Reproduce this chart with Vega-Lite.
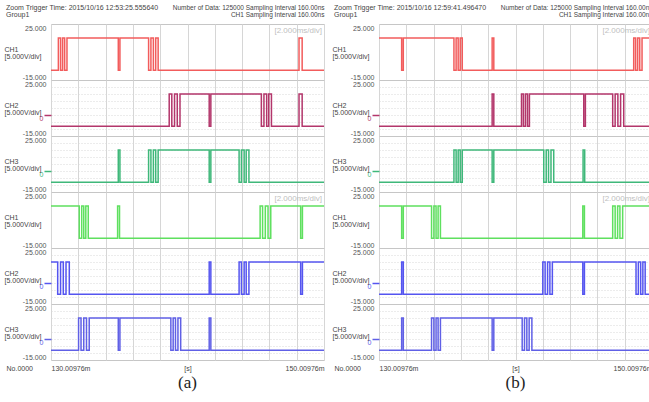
{
"$schema":"https://vega.github.io/schema/vega-lite/v6.json",
"background":"white",
"padding":{"left":3,"top":3,"right":0,"bottom":0},
"config":{"font":"Liberation Sans","view":{"stroke":"#c6c6c6","strokeWidth":1},
 "axisX":{"grid":true,"gridColor":"#d6d6d6","ticks":false,"domain":false,"labels":false,"tickCount":10}},
"datasets":{"w":[
{"p":"a1","t":0,"v":-8},{"p":"a1","t":0.54,"v":15},{"p":"a1","t":0.7,"v":-8},{"p":"a1","t":0.85,"v":15},{"p":"a1","t":1.0,"v":-8},{"p":"a1","t":1.17,"v":15},{"p":"a1","t":4.93,"v":-8},{"p":"a1","t":5.05,"v":15},{"p":"a1","t":7.15,"v":-8},{"p":"a1","t":7.32,"v":15},{"p":"a1","t":7.5,"v":-8},{"p":"a1","t":7.67,"v":15},{"p":"a1","t":7.85,"v":-8},{"p":"a1","t":18.17,"v":15},{"p":"a1","t":18.4,"v":-8},{"p":"a1","t":20,"v":-8},
{"p":"a2","t":0,"v":-8},{"p":"a2","t":8.66,"v":15},{"p":"a2","t":8.85,"v":-8},{"p":"a2","t":9.05,"v":15},{"p":"a2","t":9.25,"v":-8},{"p":"a2","t":9.45,"v":15},{"p":"a2","t":11.59,"v":-8},{"p":"a2","t":11.71,"v":15},{"p":"a2","t":15.41,"v":-8},{"p":"a2","t":15.6,"v":15},{"p":"a2","t":15.8,"v":-8},{"p":"a2","t":15.95,"v":15},{"p":"a2","t":16.15,"v":-8},{"p":"a2","t":18.17,"v":15},{"p":"a2","t":18.4,"v":-8},{"p":"a2","t":20,"v":-8},
{"p":"a3","t":0,"v":-8},{"p":"a3","t":4.93,"v":15},{"p":"a3","t":5.05,"v":-8},{"p":"a3","t":7.15,"v":15},{"p":"a3","t":7.32,"v":-8},{"p":"a3","t":7.5,"v":15},{"p":"a3","t":7.67,"v":-8},{"p":"a3","t":7.85,"v":15},{"p":"a3","t":11.59,"v":-8},{"p":"a3","t":11.71,"v":15},{"p":"a3","t":13.78,"v":-8},{"p":"a3","t":13.95,"v":15},{"p":"a3","t":14.15,"v":-8},{"p":"a3","t":14.3,"v":15},{"p":"a3","t":14.5,"v":-8},{"p":"a3","t":20,"v":-8},
{"p":"a4","t":0,"v":15},{"p":"a4","t":2.07,"v":-8},{"p":"a4","t":2.25,"v":15},{"p":"a4","t":2.4,"v":-8},{"p":"a4","t":2.55,"v":15},{"p":"a4","t":2.73,"v":-8},{"p":"a4","t":4.88,"v":15},{"p":"a4","t":5.02,"v":-8},{"p":"a4","t":15.32,"v":15},{"p":"a4","t":15.5,"v":-8},{"p":"a4","t":15.7,"v":15},{"p":"a4","t":15.9,"v":-8},{"p":"a4","t":16.1,"v":15},{"p":"a4","t":18.29,"v":-8},{"p":"a4","t":18.42,"v":15},{"p":"a4","t":20,"v":15},
{"p":"a5","t":0,"v":15},{"p":"a5","t":0.49,"v":-8},{"p":"a5","t":0.7,"v":15},{"p":"a5","t":0.9,"v":-8},{"p":"a5","t":1.1,"v":15},{"p":"a5","t":1.34,"v":-8},{"p":"a5","t":11.59,"v":15},{"p":"a5","t":11.71,"v":-8},{"p":"a5","t":13.78,"v":15},{"p":"a5","t":13.95,"v":-8},{"p":"a5","t":14.15,"v":15},{"p":"a5","t":14.3,"v":-8},{"p":"a5","t":14.5,"v":15},{"p":"a5","t":18.29,"v":-8},{"p":"a5","t":18.42,"v":15},{"p":"a5","t":20,"v":15},
{"p":"a6","t":0,"v":-8},{"p":"a6","t":2.02,"v":15},{"p":"a6","t":2.2,"v":-8},{"p":"a6","t":2.4,"v":15},{"p":"a6","t":2.6,"v":-8},{"p":"a6","t":2.8,"v":15},{"p":"a6","t":4.93,"v":-8},{"p":"a6","t":5.05,"v":15},{"p":"a6","t":8.78,"v":-8},{"p":"a6","t":8.95,"v":15},{"p":"a6","t":9.12,"v":-8},{"p":"a6","t":9.3,"v":15},{"p":"a6","t":9.5,"v":-8},{"p":"a6","t":11.59,"v":15},{"p":"a6","t":11.71,"v":-8},{"p":"a6","t":20,"v":-8},
{"p":"b1","t":0,"v":15},{"p":"b1","t":1.66,"v":-8},{"p":"b1","t":1.78,"v":15},{"p":"b1","t":5.49,"v":-8},{"p":"b1","t":5.65,"v":15},{"p":"b1","t":5.8,"v":-8},{"p":"b1","t":5.95,"v":15},{"p":"b1","t":6.1,"v":-8},{"p":"b1","t":8.29,"v":15},{"p":"b1","t":8.41,"v":-8},{"p":"b1","t":18.66,"v":15},{"p":"b1","t":18.8,"v":-8},{"p":"b1","t":18.95,"v":15},{"p":"b1","t":19.1,"v":-8},{"p":"b1","t":19.27,"v":15},{"p":"b1","t":20,"v":15},
{"p":"b2","t":0,"v":-8},{"p":"b2","t":8.29,"v":15},{"p":"b2","t":8.41,"v":-8},{"p":"b2","t":10.44,"v":15},{"p":"b2","t":10.58,"v":-8},{"p":"b2","t":10.73,"v":15},{"p":"b2","t":10.88,"v":-8},{"p":"b2","t":11.02,"v":15},{"p":"b2","t":15.0,"v":-8},{"p":"b2","t":15.12,"v":15},{"p":"b2","t":17.12,"v":-8},{"p":"b2","t":17.3,"v":15},{"p":"b2","t":17.5,"v":-8},{"p":"b2","t":17.7,"v":15},{"p":"b2","t":17.93,"v":-8},{"p":"b2","t":20,"v":-8},
{"p":"b3","t":0,"v":-8},{"p":"b3","t":5.49,"v":15},{"p":"b3","t":5.65,"v":-8},{"p":"b3","t":5.8,"v":15},{"p":"b3","t":5.95,"v":-8},{"p":"b3","t":6.1,"v":15},{"p":"b3","t":8.29,"v":-8},{"p":"b3","t":8.41,"v":15},{"p":"b3","t":12.07,"v":-8},{"p":"b3","t":12.25,"v":15},{"p":"b3","t":12.42,"v":-8},{"p":"b3","t":12.6,"v":15},{"p":"b3","t":12.8,"v":-8},{"p":"b3","t":14.95,"v":15},{"p":"b3","t":15.07,"v":-8},{"p":"b3","t":20,"v":-8},
{"p":"b4","t":0,"v":15},{"p":"b4","t":1.66,"v":-8},{"p":"b4","t":1.78,"v":15},{"p":"b4","t":3.85,"v":-8},{"p":"b4","t":4.02,"v":15},{"p":"b4","t":4.18,"v":-8},{"p":"b4","t":4.33,"v":15},{"p":"b4","t":4.5,"v":-8},{"p":"b4","t":14.93,"v":15},{"p":"b4","t":15.05,"v":-8},{"p":"b4","t":17.12,"v":15},{"p":"b4","t":17.3,"v":-8},{"p":"b4","t":17.48,"v":15},{"p":"b4","t":17.65,"v":-8},{"p":"b4","t":17.85,"v":15},{"p":"b4","t":20,"v":15},
{"p":"b5","t":0,"v":-8},{"p":"b5","t":1.66,"v":15},{"p":"b5","t":1.78,"v":-8},{"p":"b5","t":12.0,"v":15},{"p":"b5","t":12.17,"v":-8},{"p":"b5","t":12.35,"v":15},{"p":"b5","t":12.52,"v":-8},{"p":"b5","t":12.7,"v":15},{"p":"b5","t":14.93,"v":-8},{"p":"b5","t":15.05,"v":15},{"p":"b5","t":18.83,"v":-8},{"p":"b5","t":19.0,"v":15},{"p":"b5","t":19.17,"v":-8},{"p":"b5","t":19.33,"v":15},{"p":"b5","t":19.5,"v":-8},{"p":"b5","t":20,"v":-8},
{"p":"b6","t":0,"v":-8},{"p":"b6","t":1.66,"v":15},{"p":"b6","t":1.78,"v":-8},{"p":"b6","t":3.85,"v":15},{"p":"b6","t":4.02,"v":-8},{"p":"b6","t":4.18,"v":15},{"p":"b6","t":4.33,"v":-8},{"p":"b6","t":4.5,"v":15},{"p":"b6","t":8.29,"v":-8},{"p":"b6","t":8.41,"v":15},{"p":"b6","t":10.49,"v":-8},{"p":"b6","t":10.66,"v":15},{"p":"b6","t":10.83,"v":-8},{"p":"b6","t":11.0,"v":15},{"p":"b6","t":11.2,"v":-8},{"p":"b6","t":20,"v":-8}
]},
"columns":2,
"spacing":{"row":0,"column":55},
"bounds":"flush",
"concat":[
 {"width":273,"height":56,
  "title":{"text":["Zoom Trigger Time: 2015/10/16 12:53:25.555640","Group1"],"anchor":"start","frame":"group","fontSize":7,"fontWeight":"normal","color":"#444","dx":-45,"dy":16,"lineHeight":7,"offset":2},
  "layer":[
  {"data":{"name":"w"},"transform":[{"filter":"datum.p=='a1'"}],
   "mark":{"type":"line","interpolate":"step-after","color":"#f25c5c","strokeWidth":1.5,"clip":true},
   "encoding":{
    "x":{"field":"t","type":"quantitative","scale":{"domain":[0,20],"nice":false,"zero":false},"axis":{"orient":"top","title":["Number of Data: 125000 Sampling Interval  160.00ns","CH1 Sampling Interval  160.00ns"],"titleAnchor":"end","titleAlign":"right","titleX":273,"titleY":-20,"titleBaseline":"top","titleFontSize":6.5,"titleFontWeight":"normal","titleColor":"#444","titleLineHeight":7}},
    "y":{"field":"v","type":"quantitative","scale":{"domain":[-15,25],"nice":false,"zero":false},"axis":{"values":[-15,-10,-5,0,5,10,15,20,25],"labelExpr":"datum.value==0?'0':datum.value==25?'25.000':datum.value==-15?'-15.000':''","labelFlush":true,"labelFontSize":7,"labelColor":{"condition":{"test":"datum.value==0","value":"#f25c5c"},"value":"#555"},"labelOffset":{"condition":{"test":"datum.value==0","value":3},"value":0},"labelPadding":{"condition":{"test":"datum.value==0","value":1},"value":-2},"tickSize":7,"tickWidth":1.5,"tickColor":{"condition":{"test":"datum.value==0","value":"#f25c5c"},"value":"transparent"},"domain":false,"grid":true,"gridDash":[1,2],"gridColor":{"condition":{"test":"datum.value==25||datum.value==-15","value":"transparent"},"value":"#d8d8d8"},"title":["CH1","[5.000V/div]"],"titleAngle":0,"titleAlign":"left","titleBaseline":"top","titleX":-47,"titleY":21,"titleFontSize":7,"titleFontWeight":"normal","titleColor":"#444","titleLineHeight":7}}}},
  {"data":{"values":[{"s":"[2.000ms/div]"}]},"mark":{"type":"text","align":"right","baseline":"top","dx":-2,"dy":3,"fontSize":8,"color":"#c0c0c0"},"encoding":{"x":{"datum":20},"y":{"datum":25},"text":{"field":"s"}}}
 ]},
 {"width":273,"height":56,
  "title":{"text":["Zoom Trigger Time: 2015/10/16 12:59:41.496470","Group1"],"anchor":"start","frame":"group","fontSize":7,"fontWeight":"normal","color":"#444","dx":-45,"dy":16,"lineHeight":7,"offset":2},
  "layer":[
  {"data":{"name":"w"},"transform":[{"filter":"datum.p=='b1'"}],
   "mark":{"type":"line","interpolate":"step-after","color":"#f25c5c","strokeWidth":1.5,"clip":true},
   "encoding":{
    "x":{"field":"t","type":"quantitative","scale":{"domain":[0,20],"nice":false,"zero":false},"axis":{"orient":"top","title":["Number of Data: 125000 Sampling Interval  160.00ns","CH1 Sampling Interval  160.00ns"],"titleAnchor":"end","titleAlign":"right","titleX":273,"titleY":-20,"titleBaseline":"top","titleFontSize":6.5,"titleFontWeight":"normal","titleColor":"#444","titleLineHeight":7}},
    "y":{"field":"v","type":"quantitative","scale":{"domain":[-15,25],"nice":false,"zero":false},"axis":{"values":[-15,-10,-5,0,5,10,15,20,25],"labelExpr":"datum.value==0?'0':datum.value==25?'25.000':datum.value==-15?'-15.000':''","labelFlush":true,"labelFontSize":7,"labelColor":{"condition":{"test":"datum.value==0","value":"#f25c5c"},"value":"#555"},"labelOffset":{"condition":{"test":"datum.value==0","value":3},"value":0},"labelPadding":{"condition":{"test":"datum.value==0","value":1},"value":-2},"tickSize":7,"tickWidth":1.5,"tickColor":{"condition":{"test":"datum.value==0","value":"#f25c5c"},"value":"transparent"},"domain":false,"grid":true,"gridDash":[1,2],"gridColor":{"condition":{"test":"datum.value==25||datum.value==-15","value":"transparent"},"value":"#d8d8d8"},"title":["CH1","[5.000V/div]"],"titleAngle":0,"titleAlign":"left","titleBaseline":"top","titleX":-47,"titleY":21,"titleFontSize":7,"titleFontWeight":"normal","titleColor":"#444","titleLineHeight":7}}}},
  {"data":{"values":[{"s":"[2.000ms/div]"}]},"mark":{"type":"text","align":"right","baseline":"top","dx":-2,"dy":3,"fontSize":8,"color":"#c0c0c0"},"encoding":{"x":{"datum":20},"y":{"datum":25},"text":{"field":"s"}}}
 ]},
 {"width":273,"height":56,"data":{"name":"w"},"transform":[{"filter":"datum.p=='a2'"}],
   "mark":{"type":"line","interpolate":"step-after","color":"#b3366b","strokeWidth":1.5,"clip":true},
   "encoding":{
    "x":{"field":"t","type":"quantitative","scale":{"domain":[0,20],"nice":false,"zero":false},"axis":{"title":null}},
    "y":{"field":"v","type":"quantitative","scale":{"domain":[-15,25],"nice":false,"zero":false},"axis":{"values":[-15,-10,-5,0,5,10,15,20,25],"labelExpr":"datum.value==0?'0':datum.value==25?'25.000':datum.value==-15?'-15.000':''","labelFlush":true,"labelFontSize":7,"labelColor":{"condition":{"test":"datum.value==0","value":"#b3366b"},"value":"#555"},"labelOffset":{"condition":{"test":"datum.value==0","value":3},"value":0},"labelPadding":{"condition":{"test":"datum.value==0","value":1},"value":-2},"tickSize":7,"tickWidth":1.5,"tickColor":{"condition":{"test":"datum.value==0","value":"#b3366b"},"value":"transparent"},"domain":false,"grid":true,"gridDash":[1,2],"gridColor":{"condition":{"test":"datum.value==25||datum.value==-15","value":"transparent"},"value":"#d8d8d8"},"title":["CH2","[5.000V/div]"],"titleAngle":0,"titleAlign":"left","titleBaseline":"top","titleX":-47,"titleY":21,"titleFontSize":7,"titleFontWeight":"normal","titleColor":"#444","titleLineHeight":7}}}},
 {"width":273,"height":56,"data":{"name":"w"},"transform":[{"filter":"datum.p=='b2'"}],
   "mark":{"type":"line","interpolate":"step-after","color":"#b3366b","strokeWidth":1.5,"clip":true},
   "encoding":{
    "x":{"field":"t","type":"quantitative","scale":{"domain":[0,20],"nice":false,"zero":false},"axis":{"title":null}},
    "y":{"field":"v","type":"quantitative","scale":{"domain":[-15,25],"nice":false,"zero":false},"axis":{"values":[-15,-10,-5,0,5,10,15,20,25],"labelExpr":"datum.value==0?'0':datum.value==25?'25.000':datum.value==-15?'-15.000':''","labelFlush":true,"labelFontSize":7,"labelColor":{"condition":{"test":"datum.value==0","value":"#b3366b"},"value":"#555"},"labelOffset":{"condition":{"test":"datum.value==0","value":3},"value":0},"labelPadding":{"condition":{"test":"datum.value==0","value":1},"value":-2},"tickSize":7,"tickWidth":1.5,"tickColor":{"condition":{"test":"datum.value==0","value":"#b3366b"},"value":"transparent"},"domain":false,"grid":true,"gridDash":[1,2],"gridColor":{"condition":{"test":"datum.value==25||datum.value==-15","value":"transparent"},"value":"#d8d8d8"},"title":["CH2","[5.000V/div]"],"titleAngle":0,"titleAlign":"left","titleBaseline":"top","titleX":-47,"titleY":21,"titleFontSize":7,"titleFontWeight":"normal","titleColor":"#444","titleLineHeight":7}}}},
 {"width":273,"height":56,"data":{"name":"w"},"transform":[{"filter":"datum.p=='a3'"}],
   "mark":{"type":"line","interpolate":"step-after","color":"#3fb87a","strokeWidth":1.5,"clip":true},
   "encoding":{
    "x":{"field":"t","type":"quantitative","scale":{"domain":[0,20],"nice":false,"zero":false},"axis":{"title":null}},
    "y":{"field":"v","type":"quantitative","scale":{"domain":[-15,25],"nice":false,"zero":false},"axis":{"values":[-15,-10,-5,0,5,10,15,20,25],"labelExpr":"datum.value==0?'0':datum.value==25?'25.000':datum.value==-15?'-15.000':''","labelFlush":true,"labelFontSize":7,"labelColor":{"condition":{"test":"datum.value==0","value":"#3fb87a"},"value":"#555"},"labelOffset":{"condition":{"test":"datum.value==0","value":3},"value":0},"labelPadding":{"condition":{"test":"datum.value==0","value":1},"value":-2},"tickSize":7,"tickWidth":1.5,"tickColor":{"condition":{"test":"datum.value==0","value":"#3fb87a"},"value":"transparent"},"domain":false,"grid":true,"gridDash":[1,2],"gridColor":{"condition":{"test":"datum.value==25||datum.value==-15","value":"transparent"},"value":"#d8d8d8"},"title":["CH3","[5.000V/div]"],"titleAngle":0,"titleAlign":"left","titleBaseline":"top","titleX":-47,"titleY":21,"titleFontSize":7,"titleFontWeight":"normal","titleColor":"#444","titleLineHeight":7}}}},
 {"width":273,"height":56,"data":{"name":"w"},"transform":[{"filter":"datum.p=='b3'"}],
   "mark":{"type":"line","interpolate":"step-after","color":"#3fb87a","strokeWidth":1.5,"clip":true},
   "encoding":{
    "x":{"field":"t","type":"quantitative","scale":{"domain":[0,20],"nice":false,"zero":false},"axis":{"title":null}},
    "y":{"field":"v","type":"quantitative","scale":{"domain":[-15,25],"nice":false,"zero":false},"axis":{"values":[-15,-10,-5,0,5,10,15,20,25],"labelExpr":"datum.value==0?'0':datum.value==25?'25.000':datum.value==-15?'-15.000':''","labelFlush":true,"labelFontSize":7,"labelColor":{"condition":{"test":"datum.value==0","value":"#3fb87a"},"value":"#555"},"labelOffset":{"condition":{"test":"datum.value==0","value":3},"value":0},"labelPadding":{"condition":{"test":"datum.value==0","value":1},"value":-2},"tickSize":7,"tickWidth":1.5,"tickColor":{"condition":{"test":"datum.value==0","value":"#3fb87a"},"value":"transparent"},"domain":false,"grid":true,"gridDash":[1,2],"gridColor":{"condition":{"test":"datum.value==25||datum.value==-15","value":"transparent"},"value":"#d8d8d8"},"title":["CH3","[5.000V/div]"],"titleAngle":0,"titleAlign":"left","titleBaseline":"top","titleX":-47,"titleY":21,"titleFontSize":7,"titleFontWeight":"normal","titleColor":"#444","titleLineHeight":7}}}},
 {"width":273,"height":56,
  "layer":[
  {"data":{"name":"w"},"transform":[{"filter":"datum.p=='a4'"}],
   "mark":{"type":"line","interpolate":"step-after","color":"#5fe05f","strokeWidth":1.5,"clip":true},
   "encoding":{
    "x":{"field":"t","type":"quantitative","scale":{"domain":[0,20],"nice":false,"zero":false},"axis":{"title":null}},
    "y":{"field":"v","type":"quantitative","scale":{"domain":[-15,25],"nice":false,"zero":false},"axis":{"values":[-15,-10,-5,0,5,10,15,20,25],"labelExpr":"datum.value==0?'0':datum.value==25?'25.000':datum.value==-15?'-15.000':''","labelFlush":true,"labelFontSize":7,"labelColor":{"condition":{"test":"datum.value==0","value":"#5fe05f"},"value":"#555"},"labelOffset":{"condition":{"test":"datum.value==0","value":3},"value":0},"labelPadding":{"condition":{"test":"datum.value==0","value":1},"value":-2},"tickSize":7,"tickWidth":1.5,"tickColor":{"condition":{"test":"datum.value==0","value":"#5fe05f"},"value":"transparent"},"domain":false,"grid":true,"gridDash":[1,2],"gridColor":{"condition":{"test":"datum.value==25||datum.value==-15","value":"transparent"},"value":"#d8d8d8"},"title":["CH1","[5.000V/div]"],"titleAngle":0,"titleAlign":"left","titleBaseline":"top","titleX":-47,"titleY":21,"titleFontSize":7,"titleFontWeight":"normal","titleColor":"#444","titleLineHeight":7}}}},
  {"data":{"values":[{"s":"[2.000ms/div]"}]},"mark":{"type":"text","align":"right","baseline":"top","dx":-2,"dy":3,"fontSize":8,"color":"#c0c0c0"},"encoding":{"x":{"datum":20},"y":{"datum":25},"text":{"field":"s"}}}
 ]},
 {"width":273,"height":56,
  "layer":[
  {"data":{"name":"w"},"transform":[{"filter":"datum.p=='b4'"}],
   "mark":{"type":"line","interpolate":"step-after","color":"#5fe05f","strokeWidth":1.5,"clip":true},
   "encoding":{
    "x":{"field":"t","type":"quantitative","scale":{"domain":[0,20],"nice":false,"zero":false},"axis":{"title":null}},
    "y":{"field":"v","type":"quantitative","scale":{"domain":[-15,25],"nice":false,"zero":false},"axis":{"values":[-15,-10,-5,0,5,10,15,20,25],"labelExpr":"datum.value==0?'0':datum.value==25?'25.000':datum.value==-15?'-15.000':''","labelFlush":true,"labelFontSize":7,"labelColor":{"condition":{"test":"datum.value==0","value":"#5fe05f"},"value":"#555"},"labelOffset":{"condition":{"test":"datum.value==0","value":3},"value":0},"labelPadding":{"condition":{"test":"datum.value==0","value":1},"value":-2},"tickSize":7,"tickWidth":1.5,"tickColor":{"condition":{"test":"datum.value==0","value":"#5fe05f"},"value":"transparent"},"domain":false,"grid":true,"gridDash":[1,2],"gridColor":{"condition":{"test":"datum.value==25||datum.value==-15","value":"transparent"},"value":"#d8d8d8"},"title":["CH1","[5.000V/div]"],"titleAngle":0,"titleAlign":"left","titleBaseline":"top","titleX":-47,"titleY":21,"titleFontSize":7,"titleFontWeight":"normal","titleColor":"#444","titleLineHeight":7}}}},
  {"data":{"values":[{"s":"[2.000ms/div]"}]},"mark":{"type":"text","align":"right","baseline":"top","dx":-2,"dy":3,"fontSize":8,"color":"#c0c0c0"},"encoding":{"x":{"datum":20},"y":{"datum":25},"text":{"field":"s"}}}
 ]},
 {"width":273,"height":56,"data":{"name":"w"},"transform":[{"filter":"datum.p=='a5'"}],
   "mark":{"type":"line","interpolate":"step-after","color":"#5555f0","strokeWidth":1.5,"clip":true},
   "encoding":{
    "x":{"field":"t","type":"quantitative","scale":{"domain":[0,20],"nice":false,"zero":false},"axis":{"title":null}},
    "y":{"field":"v","type":"quantitative","scale":{"domain":[-15,25],"nice":false,"zero":false},"axis":{"values":[-15,-10,-5,0,5,10,15,20,25],"labelExpr":"datum.value==0?'0':datum.value==25?'25.000':datum.value==-15?'-15.000':''","labelFlush":true,"labelFontSize":7,"labelColor":{"condition":{"test":"datum.value==0","value":"#5555f0"},"value":"#555"},"labelOffset":{"condition":{"test":"datum.value==0","value":3},"value":0},"labelPadding":{"condition":{"test":"datum.value==0","value":1},"value":-2},"tickSize":7,"tickWidth":1.5,"tickColor":{"condition":{"test":"datum.value==0","value":"#5555f0"},"value":"transparent"},"domain":false,"grid":true,"gridDash":[1,2],"gridColor":{"condition":{"test":"datum.value==25||datum.value==-15","value":"transparent"},"value":"#d8d8d8"},"title":["CH2","[5.000V/div]"],"titleAngle":0,"titleAlign":"left","titleBaseline":"top","titleX":-47,"titleY":21,"titleFontSize":7,"titleFontWeight":"normal","titleColor":"#444","titleLineHeight":7}}}},
 {"width":273,"height":56,"data":{"name":"w"},"transform":[{"filter":"datum.p=='b5'"}],
   "mark":{"type":"line","interpolate":"step-after","color":"#5555f0","strokeWidth":1.5,"clip":true},
   "encoding":{
    "x":{"field":"t","type":"quantitative","scale":{"domain":[0,20],"nice":false,"zero":false},"axis":{"title":null}},
    "y":{"field":"v","type":"quantitative","scale":{"domain":[-15,25],"nice":false,"zero":false},"axis":{"values":[-15,-10,-5,0,5,10,15,20,25],"labelExpr":"datum.value==0?'0':datum.value==25?'25.000':datum.value==-15?'-15.000':''","labelFlush":true,"labelFontSize":7,"labelColor":{"condition":{"test":"datum.value==0","value":"#5555f0"},"value":"#555"},"labelOffset":{"condition":{"test":"datum.value==0","value":3},"value":0},"labelPadding":{"condition":{"test":"datum.value==0","value":1},"value":-2},"tickSize":7,"tickWidth":1.5,"tickColor":{"condition":{"test":"datum.value==0","value":"#5555f0"},"value":"transparent"},"domain":false,"grid":true,"gridDash":[1,2],"gridColor":{"condition":{"test":"datum.value==25||datum.value==-15","value":"transparent"},"value":"#d8d8d8"},"title":["CH2","[5.000V/div]"],"titleAngle":0,"titleAlign":"left","titleBaseline":"top","titleX":-47,"titleY":21,"titleFontSize":7,"titleFontWeight":"normal","titleColor":"#444","titleLineHeight":7}}}},
 {"width":273,"height":56,"data":{"name":"w"},"transform":[{"filter":"datum.p=='a6'"}],
   "title":{"text":"(a)","orient":"bottom","anchor":"middle","font":"Liberation Serif","fontSize":17,"fontWeight":"normal","color":"#222","offset":4},
   "mark":{"type":"line","interpolate":"step-after","color":"#6060e6","strokeWidth":1.5,"clip":true},
   "encoding":{
    "x":{"field":"t","type":"quantitative","scale":{"domain":[0,20],"nice":false,"zero":false},"axis":{"labels":true,"labelExpr":"datum.value==0?'130.00976m':datum.value==10?'[s]':datum.value==20?'150.00976m':''","labelFlush":true,"labelFontSize":7,"labelColor":"#444","labelPadding":4,"title":"No.0000","titleAnchor":"start","titleAlign":"left","titleX":-45,"titleY":4,"titleBaseline":"top","titleFontSize":7,"titleFontWeight":"normal","titleColor":"#444"}},
    "y":{"field":"v","type":"quantitative","scale":{"domain":[-15,25],"nice":false,"zero":false},"axis":{"values":[-15,-10,-5,0,5,10,15,20,25],"labelExpr":"datum.value==0?'0':datum.value==25?'25.000':datum.value==-15?'-15.000':''","labelFlush":true,"labelFontSize":7,"labelColor":{"condition":{"test":"datum.value==0","value":"#6060e6"},"value":"#555"},"labelOffset":{"condition":{"test":"datum.value==0","value":3},"value":0},"labelPadding":{"condition":{"test":"datum.value==0","value":1},"value":-2},"tickSize":7,"tickWidth":1.5,"tickColor":{"condition":{"test":"datum.value==0","value":"#6060e6"},"value":"transparent"},"domain":false,"grid":true,"gridDash":[1,2],"gridColor":{"condition":{"test":"datum.value==25||datum.value==-15","value":"transparent"},"value":"#d8d8d8"},"title":["CH3","[5.000V/div]"],"titleAngle":0,"titleAlign":"left","titleBaseline":"top","titleX":-47,"titleY":21,"titleFontSize":7,"titleFontWeight":"normal","titleColor":"#444","titleLineHeight":7}}}},
 {"width":273,"height":56,"data":{"name":"w"},"transform":[{"filter":"datum.p=='b6'"}],
   "title":{"text":"(b)","orient":"bottom","anchor":"middle","font":"Liberation Serif","fontSize":17,"fontWeight":"normal","color":"#222","offset":4},
   "mark":{"type":"line","interpolate":"step-after","color":"#6060e6","strokeWidth":1.5,"clip":true},
   "encoding":{
    "x":{"field":"t","type":"quantitative","scale":{"domain":[0,20],"nice":false,"zero":false},"axis":{"labels":true,"labelExpr":"datum.value==0?'130.00976m':datum.value==10?'[s]':datum.value==20?'150.00976m':''","labelFlush":true,"labelFontSize":7,"labelColor":"#444","labelPadding":4,"title":"No.0000","titleAnchor":"start","titleAlign":"left","titleX":-45,"titleY":4,"titleBaseline":"top","titleFontSize":7,"titleFontWeight":"normal","titleColor":"#444"}},
    "y":{"field":"v","type":"quantitative","scale":{"domain":[-15,25],"nice":false,"zero":false},"axis":{"values":[-15,-10,-5,0,5,10,15,20,25],"labelExpr":"datum.value==0?'0':datum.value==25?'25.000':datum.value==-15?'-15.000':''","labelFlush":true,"labelFontSize":7,"labelColor":{"condition":{"test":"datum.value==0","value":"#6060e6"},"value":"#555"},"labelOffset":{"condition":{"test":"datum.value==0","value":3},"value":0},"labelPadding":{"condition":{"test":"datum.value==0","value":1},"value":-2},"tickSize":7,"tickWidth":1.5,"tickColor":{"condition":{"test":"datum.value==0","value":"#6060e6"},"value":"transparent"},"domain":false,"grid":true,"gridDash":[1,2],"gridColor":{"condition":{"test":"datum.value==25||datum.value==-15","value":"transparent"},"value":"#d8d8d8"},"title":["CH3","[5.000V/div]"],"titleAngle":0,"titleAlign":"left","titleBaseline":"top","titleX":-47,"titleY":21,"titleFontSize":7,"titleFontWeight":"normal","titleColor":"#444","titleLineHeight":7}}}}
]
}
